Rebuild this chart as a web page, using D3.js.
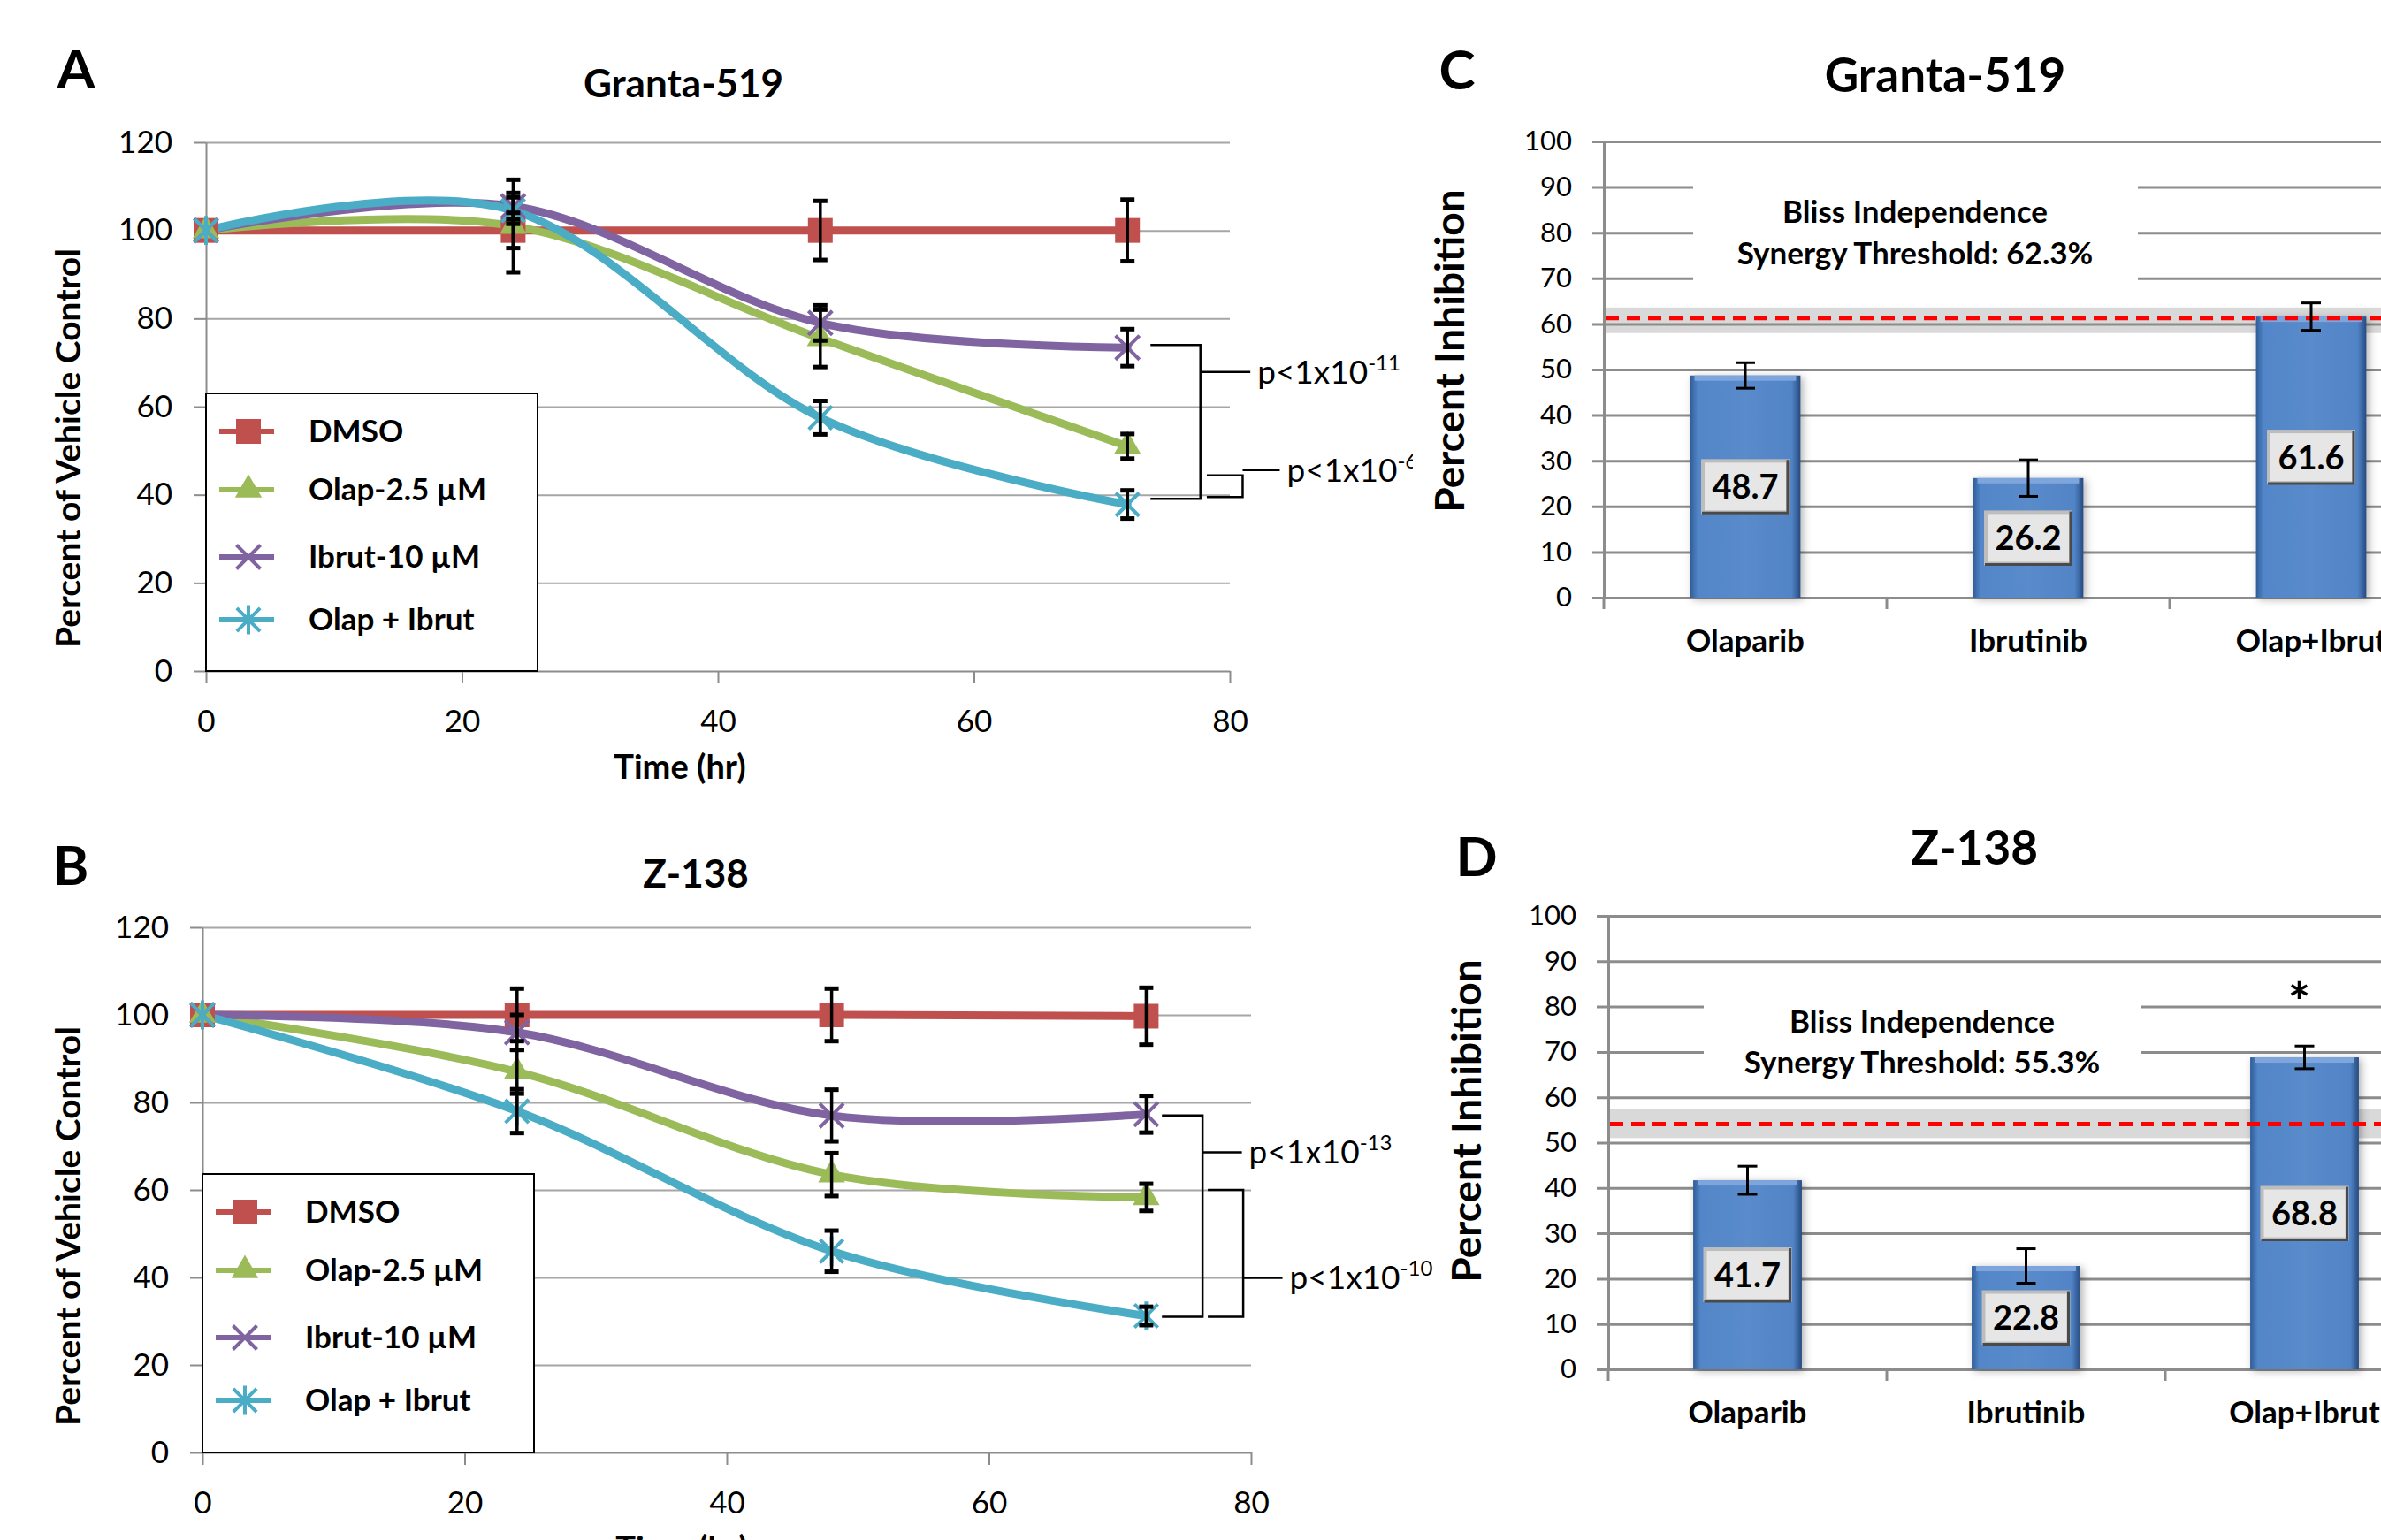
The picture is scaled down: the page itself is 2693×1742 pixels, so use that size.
<!DOCTYPE html>
<html>
<head>
<meta charset="utf-8">
<script src="https://cdn.jsdelivr.net/npm/d3@7"></script>
<style>
  body { margin: 0; background: #fff; }
  svg { display: block; font-family: Lato, "Open Sans", sans-serif; }
</style>
</head>
<body>
<script>
var W = 2693, H = 1742;

// ---- line charts (A, B) ----
var hours = [0, 24, 48, 72];
var seriesNames = ["DMSO", "Olap-2.5 \u00b5M", "Ibrut-10 \u00b5M", "Olap + Ibrut"];
var seriesColors = ["#C0504D", "#9BBB59", "#8064A2", "#4BACC6"];
var seriesMarkers = ["square", "triangle", "x", "star"];
var timeTicks = [0, 20, 40, 60, 80];
var vehicleTicks = [0, 20, 40, 60, 80, 100, 120];

// Granta-519, percent of vehicle control
var grantaDMSO = [100, 100, 100, 100];
var grantaDMSOErr = [0, 4, 6.7, 7];
var grantaOlap = [100, 101, 75.5, 51];
var grantaOlapErr = [0, 10.5, 6.5, 2.8];
var grantaIbrut = [100, 105.5, 79, 73.4];
var grantaIbrutErr = [0, 3, 4, 4.2];
var grantaCombo = [100, 104.5, 57.5, 37.8];
var grantaComboErr = [0, 3, 3.8, 3.2];

// Z-138, percent of vehicle control
var zDMSO = [100, 100, 100, 99.7];
var zDMSOErr = [0, 6, 6, 6.5];
var zOlap = [100, 87, 63.5, 58.3];
var zOlapErr = [0, 5, 4.9, 3.1];
var zIbrut = [100, 96, 77, 77.3];
var zIbrutErr = [0, 4, 5.9, 4.2];
var zCombo = [100, 78, 46, 31.2];
var zComboErr = [0, 5, 4.7, 2.1];

// significance brackets: [x0, xVert, xStem, yTop, yBottom, yStem] in data units
var grantaBrackets = [[73.8, 77.7, 81.6, 74.0, 39.1, 67.9], [78.2, 81.0, 83.9, 44.4, 39.5, 45.6]];
var grantaPvals = ["-11", "-6"];
var zBrackets = [[73.2, 76.3, 79.3, 77.0, 31.0, 68.6], [76.7, 79.4, 82.4, 60.0, 31.0, 39.9]];
var zPvals = ["-13", "-10"];

// ---- bar charts (C, D) ----
var drugs = ["Olaparib", "Ibrutinib", "Olap+Ibrut"];
var inhibitionTicks = [0, 10, 20, 30, 40, 50, 60, 70, 80, 90, 100];
var grantaInhibition = [48.7, 26.2, 61.6];
var grantaInhibitionErr = [2.8, 4.0, 3.0];
var grantaThreshold = "62.3%";
var grantaThresholdLine = 61.3;
var grantaThresholdBand = [58.0, 63.6];
var zInhibition = [41.7, 22.8, 68.8];
var zInhibitionErr = [3.1, 3.8, 2.5];
var zThreshold = "55.3%";
var zThresholdLine = 54.1;
var zThresholdBand = [51.0, 57.5];
var zSignif = ["", "", "*"];

var svg = d3.select("body").append("svg").attr("width", W).attr("height", H);
svg.append("rect").attr("width", W).attr("height", H).attr("fill", "#fff");

var defs = svg.append("defs");
var grad = defs.append("linearGradient").attr("id", "barGrad").attr("x1", "0").attr("x2", "1").attr("y1", "0").attr("y2", "0");
grad.append("stop").attr("offset", "0").attr("stop-color", "#2f5c97");
grad.append("stop").attr("offset", "0.07").attr("stop-color", "#5286c8");
grad.append("stop").attr("offset", "0.5").attr("stop-color", "#5a8bcb");
grad.append("stop").attr("offset", "0.92").attr("stop-color", "#5184c6");
grad.append("stop").attr("offset", "1").attr("stop-color", "#274b80");
var shadow = defs.append("filter").attr("id", "shadow").attr("x", "-20%").attr("y", "-20%").attr("width", "140%").attr("height", "140%");
shadow.append("feDropShadow").attr("dx", 3).attr("dy", 2).attr("stdDeviation", 5).attr("flood-color", "#000").attr("flood-opacity", 0.3);
defs.append("clipPath").attr("id", "clipA").append("rect").attr("x", 0).attr("y", 0).attr("width", 1598).attr("height", 880);

var starSymbol = {
  draw: function(ctx, size) {
    var r = Math.sqrt(size) * 0.6;
    ctx.moveTo(-r, -r); ctx.lineTo(r, r);
    ctx.moveTo(-r, r); ctx.lineTo(r, -r);
    ctx.moveTo(0, -r * 1.25); ctx.lineTo(0, r * 1.25);
  }
};
function markerPath(kind) {
  if (kind === "square") return d3.symbol(d3.symbolSquare, 28 * 28)();
  if (kind === "triangle") return d3.symbol(d3.symbolTriangle, 400)();
  if (kind === "x") return d3.symbol(d3.symbolX, 480)();
  return d3.symbol(starSymbol, 480)();
}
function drawMarker(g, kind, color, cx, cy) {
  var p = g.append("path").attr("d", markerPath(kind)).attr("transform", "translate(" + cx + "," + cy + ")");
  if (kind === "square" || kind === "triangle") p.attr("fill", color);
  else p.attr("fill", "none").attr("stroke", color).attr("stroke-width", 4);
}

function styleAxis(sel, size, color) {
  sel.attr("font-family", null).attr("font-size", size);
  sel.selectAll("text").attr("fill", "#000");
  sel.selectAll("line").attr("stroke", color).attr("stroke-width", 2);
  sel.select(".domain").attr("stroke", color).attr("stroke-width", 2);
}

function linePanel(cfg) {
  var g = svg.append("g");
  var x = d3.scaleLinear().domain([0, 80]).range([cfg.left, cfg.right]);
  var y = d3.scaleLinear().domain([0, 120]).range([cfg.bottom, cfg.top]);

  // gridlines
  g.append("g").attr("transform", "translate(" + cfg.left + ",0)")
    .call(d3.axisLeft(y).tickValues(vehicleTicks.slice(1)).tickSize(-(cfg.right - cfg.left)).tickFormat(""))
    .call(function(s) { s.select(".domain").remove(); })
    .selectAll("line").attr("stroke", "#A6A6A6").attr("stroke-width", 2);

  var ya = g.append("g").attr("transform", "translate(" + cfg.left + ",0)")
    .call(d3.axisLeft(y).tickValues(vehicleTicks).tickSize(14).tickSizeOuter(0).tickPadding(24));
  styleAxis(ya, 35, "#8C8C8C");
  var xa = g.append("g").attr("transform", "translate(0," + cfg.bottom + ")")
    .call(d3.axisBottom(x).tickValues(timeTicks).tickSize(14).tickSizeOuter(0).tickPadding(30));
  styleAxis(xa, 35, "#8C8C8C");

  // titles
  g.append("text").attr("x", cfg.letterX).attr("y", cfg.letterY).attr("text-anchor", "middle")
    .attr("font-size", 62).attr("font-weight", "bold").text(cfg.letter);
  g.append("text").attr("x", cfg.titleX).attr("y", cfg.titleY).attr("text-anchor", "middle")
    .attr("font-size", 44).attr("font-weight", "bold").text(cfg.title);
  g.append("text").attr("transform", "translate(77," + cfg.yTitleY + ") rotate(-90)").attr("text-anchor", "middle")
    .attr("dy", "0.35em").attr("font-size", 39).attr("font-weight", "bold").text("Percent of Vehicle Control");
  g.append("text").attr("x", cfg.xTitleX).attr("y", cfg.bottom + 109).attr("text-anchor", "middle")
    .attr("dy", "0.35em").attr("font-size", 38).attr("font-weight", "bold").text("Time (hr)");

  // legend
  var lg = g.append("g").attr("transform", "translate(" + cfg.left + "," + cfg.legendTop + ")");
  lg.append("rect").attr("width", 375).attr("height", cfg.bottom - cfg.legendTop)
    .attr("fill", "#fff").attr("stroke", "#000").attr("stroke-width", 2);
  var rowY = [43, 109, 185, 256];
  seriesNames.forEach(function(name, i) {
    lg.append("line").attr("x1", 15).attr("x2", 77).attr("y1", rowY[i]).attr("y2", rowY[i])
      .attr("stroke", seriesColors[i]).attr("stroke-width", 6);
    drawMarker(lg, seriesMarkers[i], seriesColors[i], 48, rowY[i]);
    lg.append("text").attr("x", 116).attr("y", rowY[i]).attr("dy", "0.35em")
      .attr("font-size", 35).attr("font-weight", "bold").text(name);
  });

  // series lines
  var line = d3.line().x(function(d, i) { return x(hours[i]); }).y(function(d) { return y(d); })
    .curve(d3.curveCardinal.tension(0));
  cfg.values.forEach(function(vals, s) {
    g.append("path").attr("d", line(vals)).attr("fill", "none").attr("stroke", seriesColors[s])
      .attr("stroke-width", 9).attr("stroke-linejoin", "round").attr("stroke-linecap", "round");
  });
  cfg.values.forEach(function(vals, s) {
    vals.forEach(function(v, i) { drawMarker(g, seriesMarkers[s], seriesColors[s], x(hours[i]), y(v)); });
  });
  // error bars
  cfg.values.forEach(function(vals, s) {
    vals.forEach(function(v, i) {
      var e = cfg.errors[s][i];
      if (!e) return;
      var cx = x(hours[i]);
      g.append("line").attr("x1", cx).attr("x2", cx).attr("y1", y(v - e)).attr("y2", y(v + e))
        .attr("stroke", "#000").attr("stroke-width", 3.5);
      [v - e, v + e].forEach(function(c) {
        g.append("line").attr("x1", cx - 8).attr("x2", cx + 8).attr("y1", y(c)).attr("y2", y(c))
          .attr("stroke", "#000").attr("stroke-width", 5);
      });
    });
  });

  // significance brackets
  var bg = g.append("g");
  if (cfg.clip) bg.attr("clip-path", "url(#clipA)");
  cfg.brackets.forEach(function(b, k) {
    var path = d3.path();
    path.moveTo(x(b[0]), y(b[3])); path.lineTo(x(b[1]), y(b[3]));
    path.lineTo(x(b[1]), y(b[4])); path.lineTo(x(b[0]), y(b[4]));
    path.moveTo(x(b[1]), y(b[5])); path.lineTo(x(b[2]), y(b[5]));
    bg.append("path").attr("d", path.toString()).attr("fill", "none").attr("stroke", "#000").attr("stroke-width", 2.5);
    var t = bg.append("text").attr("x", x(b[2]) + 8).attr("y", y(b[5]) + 13).attr("font-size", 37);
    t.append("tspan").text("p<1x10");
    t.append("tspan").attr("dy", -15).attr("font-size", 24).text(cfg.pvals[k]);
  });
}

function barPanel(cfg) {
  var g = svg.append("g");
  var x = d3.scaleBand().domain(drugs).range([cfg.axisX, cfg.axisX + 3 * cfg.step])
    .paddingInner(0.61).paddingOuter(0.305);
  var y = d3.scaleLinear().domain([0, 100]).range([cfg.bottom, cfg.top]);

  // threshold band
  g.append("rect").attr("x", cfg.axisX + 2).attr("y", y(cfg.band[1])).attr("width", W - cfg.axisX)
    .attr("height", y(cfg.band[0]) - y(cfg.band[1])).attr("fill", "#D9D9D9");

  // gridlines with left tick marks
  var ya = g.append("g").attr("transform", "translate(" + cfg.axisX + ",0)")
    .call(d3.axisLeft(y).tickValues(inhibitionTicks).tickSize(13).tickSizeOuter(0).tickPadding(23));
  styleAxis(ya, 31, "#8C8C8C");
  ya.selectAll("line").attr("stroke-width", 3).attr("x2", W - cfg.axisX);
  ya.selectAll(".tick line").attr("x1", -13);
  ya.select(".domain").attr("stroke-width", 3);

  // category ticks
  g.append("g").selectAll("line").data(d3.range(4)).enter().append("line")
    .attr("x1", function(d) { return cfg.axisX + d * cfg.step; })
    .attr("x2", function(d) { return cfg.axisX + d * cfg.step; })
    .attr("y1", cfg.bottom).attr("y2", cfg.bottom + 13).attr("stroke", "#8C8C8C").attr("stroke-width", 3);
  g.selectAll(".cat").data(drugs).enter().append("text").attr("class", "cat")
    .attr("x", function(d) { return x(d) + x.bandwidth() / 2; }).attr("y", cfg.bottom + 49)
    .attr("dy", "0.35em").attr("text-anchor", "middle").attr("font-size", 35).attr("font-weight", "bold")
    .text(function(d) { return d; });

  // Bliss annotation box
  g.append("rect").attr("x", cfg.boxX0).attr("width", cfg.boxX1 - cfg.boxX0)
    .attr("y", y(cfg.boxTop)).attr("height", y(cfg.boxBottom) - y(cfg.boxTop)).attr("fill", "#fff");
  g.append("text").attr("x", cfg.textX).attr("y", cfg.textY1).attr("dy", "0.35em").attr("text-anchor", "middle")
    .attr("font-size", 35).attr("font-weight", "bold").text("Bliss Independence");
  g.append("text").attr("x", cfg.textX).attr("y", cfg.textY2).attr("dy", "0.35em").attr("text-anchor", "middle")
    .attr("font-size", 35).attr("font-weight", "bold").text("Synergy Threshold: " + cfg.threshold);

  // titles
  g.append("text").attr("x", cfg.letterX).attr("y", cfg.letterY).attr("text-anchor", "middle")
    .attr("font-size", 62).attr("font-weight", "bold").text(cfg.letter);
  g.append("text").attr("x", cfg.titleX).attr("y", cfg.titleY).attr("text-anchor", "middle")
    .attr("font-size", 53).attr("font-weight", "bold").text(cfg.title);
  g.append("text").attr("transform", "translate(" + cfg.yTitleX + "," + cfg.yTitleY + ") rotate(-90)")
    .attr("text-anchor", "middle").attr("dy", "0.35em").attr("font-size", 46).attr("font-weight", "bold")
    .text("Percent Inhibition");

  // bars
  var bars = g.selectAll(".bar").data(cfg.values).enter().append("g").attr("class", "bar");
  bars.append("rect").attr("x", function(d, i) { return x(drugs[i]); }).attr("width", x.bandwidth())
    .attr("y", function(d) { return y(d); }).attr("height", function(d) { return y(0) - y(d); })
    .attr("fill", "url(#barGrad)").attr("filter", "url(#shadow)");
  bars.append("rect").attr("x", function(d, i) { return x(drugs[i]) + 5; }).attr("width", x.bandwidth() - 10)
    .attr("y", function(d) { return y(d); }).attr("height", 6).attr("fill", "#7ea6dc");

  // threshold line
  g.append("line").attr("x1", cfg.axisX + 2).attr("x2", W).attr("y1", y(cfg.line)).attr("y2", y(cfg.line))
    .attr("stroke", "#FF0000").attr("stroke-width", 5).attr("stroke-dasharray", "15,9");

  // error bars
  cfg.values.forEach(function(v, i) {
    var cx = x(drugs[i]) + x.bandwidth() / 2, e = cfg.errors[i];
    g.append("line").attr("x1", cx).attr("x2", cx).attr("y1", y(v - e)).attr("y2", y(v + e))
      .attr("stroke", "#000").attr("stroke-width", 3);
    [v - e, v + e].forEach(function(c) {
      g.append("line").attr("x1", cx - 11).attr("x2", cx + 11).attr("y1", y(c)).attr("y2", y(c))
        .attr("stroke", "#000").attr("stroke-width", 3);
    });
  });

  // value label boxes
  cfg.values.forEach(function(v, i) {
    var cx = x(drugs[i]) + x.bandwidth() / 2, cy = y(v / 2);
    var lb = g.append("g").attr("transform", "translate(" + (cx - 50) + "," + (cy - 31) + ")");
    lb.append("rect").attr("width", 100).attr("height", 62).attr("fill", "#BDBDBD");
    lb.append("rect").attr("x", 4).attr("y", 4).attr("width", 92).attr("height", 54).attr("fill", "#E6E6E6");
    lb.append("path").attr("d", "M98,1V61H1").attr("fill", "none").attr("stroke", "#4a4a4a").attr("stroke-width", 3);
    lb.append("text").attr("x", 50).attr("y", 31).attr("dy", "0.36em").attr("text-anchor", "middle")
      .attr("font-size", 38).attr("font-weight", "bold").text(v.toFixed(1));
  });

  if (cfg.signif) {
    cfg.signif.forEach(function(s, i) {
      if (!s) return;
      g.append("text").attr("x", x(drugs[i]) + x.bandwidth() / 2 - 6).attr("y", y(82.6) + 30)
        .attr("text-anchor", "middle").attr("font-size", 60).attr("font-weight", "bold").text(s);
    });
  }
}

linePanel({
  left: 233, right: 1391, top: 161, bottom: 759, legendTop: 445,
  letter: "A", letterX: 86, letterY: 100, title: "Granta-519", titleX: 773, titleY: 110,
  yTitleY: 507, xTitleX: 769, clip: true,
  values: [grantaDMSO, grantaOlap, grantaIbrut, grantaCombo],
  errors: [grantaDMSOErr, grantaOlapErr, grantaIbrutErr, grantaComboErr],
  brackets: grantaBrackets, pvals: grantaPvals
});
linePanel({
  left: 229, right: 1415, top: 1049, bottom: 1643, legendTop: 1328,
  letter: "B", letterX: 80, letterY: 1001, title: "Z-138", titleX: 787, titleY: 1004,
  yTitleY: 1387, xTitleX: 771, clip: false,
  values: [zDMSO, zOlap, zIbrut, zCombo],
  errors: [zDMSOErr, zOlapErr, zIbrutErr, zComboErr],
  brackets: zBrackets, pvals: zPvals
});
barPanel({
  axisX: 1814, step: 320, top: 160, bottom: 676,
  letter: "C", letterX: 1648, letterY: 101, title: "Granta-519", titleX: 2200, titleY: 104,
  yTitleX: 1640, yTitleY: 397,
  values: grantaInhibition, errors: grantaInhibitionErr,
  threshold: grantaThreshold, line: grantaThresholdLine, band: grantaThresholdBand,
  boxX0: 1915, boxX1: 2418, boxTop: 96, boxBottom: 65, textX: 2166, textY1: 240, textY2: 287
});
barPanel({
  axisX: 1819, step: 315, top: 1036, bottom: 1549,
  letter: "D", letterX: 1670, letterY: 991, title: "Z-138", titleX: 2233, titleY: 978,
  yTitleX: 1659, yTitleY: 1268,
  values: zInhibition, errors: zInhibitionErr,
  threshold: zThreshold, line: zThresholdLine, band: zThresholdBand, signif: zSignif,
  boxX0: 1927, boxX1: 2422, boxTop: 86, boxBottom: 63, textX: 2174, textY1: 1156, textY2: 1202
});
</script>
</body>
</html>
